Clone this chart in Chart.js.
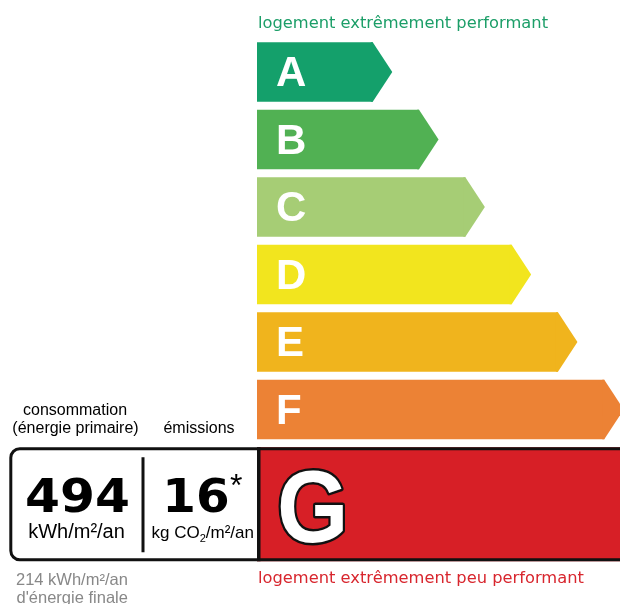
<!DOCTYPE html>
<html>
<head>
<meta charset="utf-8">
<script src="https://cdn.jsdelivr.net/npm/chart.js@4.4.1/dist/chart.umd.min.js"></script>
<style>
  html, body { margin: 0; padding: 0; background: #fff; }
  #wrap { width: 620px; height: 604px; position: relative; }
</style>
</head>
<body>
<div id="wrap"><canvas id="myChart"></canvas></div>
<script>
// energy classes and the (relative) length of each arrow
const classes = ['A', 'B', 'C', 'D', 'E', 'F'];
const barLengths = [2.5, 3.5, 4.5, 5.5, 6.5, 7.5];
const classColors = ['#14a06b', '#51b153', '#a6cd75', '#f2e51e', '#f0b41d', '#ec8235'];

// the rating of this home
const currentClass = 'G';
const primaryEnergy = 494;   // kWh/m²/an
const emissions = 16;        // kg CO2/m²/an
const finalEnergy = 214;     // kWh/m²/an

const topLabel = 'logement extrêmement performant';
const bottomLabel = 'logement extrêmement peu performant';

const tip = 19.5;

const dpePlugin = {
  id: 'dpe',
  afterDatasetsDraw(chart) {
    const ctx = chart.ctx;
    const meta = chart.getDatasetMeta(0);
    const x0 = chart.scales.x.getPixelForValue(0);

    // arrow tips + letters
    meta.data.forEach((bar, i) => {
      const h = bar.height;
      ctx.fillStyle = classColors[i];
      ctx.beginPath();
      ctx.moveTo(bar.x - 2, bar.y - h / 2);
      ctx.lineTo(bar.x, bar.y - h / 2);
      ctx.lineTo(bar.x + tip, bar.y);
      ctx.lineTo(bar.x, bar.y + h / 2);
      ctx.lineTo(bar.x - 2, bar.y + h / 2);
      ctx.closePath();
      ctx.fill();

      ctx.fillStyle = '#fff';
      ctx.font = 'bold 42px "Liberation Sans", Arial, sans-serif';
      ctx.textAlign = 'left';
      ctx.textBaseline = 'alphabetic';
      ctx.fillText(chart.data.labels[i], x0 + 19, bar.y + 14);
    });

    // the G box, right under F
    const last = meta.data[meta.data.length - 1];
    const pitch = meta.data[1].y - meta.data[0].y;
    const top = last.y + last.height / 2 + (pitch - last.height);
    const boxH = 114;

    ctx.save();
    ctx.fillStyle = '#d71f26';
    ctx.fillRect(x0, top, chart.width - x0 + 5, boxH);
    ctx.fillStyle = '#fff';
    ctx.fillRect(11, top + 2, x0 - 11, boxH - 4);
    ctx.fillStyle = '#111';
    ctx.fillRect(x0, top, 3.5, boxH);
    ctx.lineWidth = 3;
    ctx.strokeStyle = '#111';
    ctx.beginPath();
    ctx.roundRect(10.8, top + 1.5, 700, boxH - 3, 9);
    ctx.stroke();
    // divider
    ctx.fillRect(141.5, top + 10, 3, 95);

    // big G
    ctx.save();
    ctx.translate(x0 + 20, top + 94.5);
    ctx.scale(0.9, 1);
    ctx.font = 'bold 102px "Liberation Sans", Arial, sans-serif';
    ctx.lineJoin = 'round';
    ctx.lineWidth = 5;
    ctx.strokeStyle = '#111';
    ctx.strokeText(currentClass, 0, 0);
    ctx.fillStyle = '#fff';
    ctx.fillText(currentClass, 0, 0);
    ctx.restore();

    // values
    ctx.fillStyle = '#000';
    ctx.textAlign = 'center';
    ctx.font = 'bold 47px "DejaVu Sans", sans-serif';
    ctx.save();
    ctx.translate(77.5, top + 64.5);
    ctx.scale(1.07, 1);
    ctx.fillText(String(primaryEnergy), 0, 0);
    ctx.restore();
    ctx.save();
    ctx.translate(196, top + 64.5);
    ctx.scale(1.03, 1);
    ctx.fillText(String(emissions), 0, 0);
    ctx.restore();
    ctx.font = '32px "Liberation Sans", Arial, sans-serif';
    ctx.textAlign = 'left';
    ctx.fillText('*', 230, top + 49);

    ctx.font = '20px "Liberation Sans", Arial, sans-serif';
    ctx.textAlign = 'center';
    ctx.fillText('kWh/m²/an', 76.5, top + 91);

    ctx.font = '17px "Liberation Sans", Arial, sans-serif';
    ctx.textAlign = 'left';
    let tx = 151.5;
    ctx.fillText('kg CO', tx, top + 91);
    tx += ctx.measureText('kg CO').width;
    ctx.font = '11px "Liberation Sans", Arial, sans-serif';
    ctx.fillText('2', tx, top + 95);
    tx += ctx.measureText('2').width;
    ctx.font = '17px "Liberation Sans", Arial, sans-serif';
    ctx.fillText('/m²/an', tx, top + 91);

    // headers above the box
    ctx.font = '16px "Liberation Sans", Arial, sans-serif';
    ctx.textAlign = 'center';
    ctx.fillText('consommation', 75, top - 32);
    ctx.fillText('(énergie primaire)', 75.5, top - 14);
    ctx.fillText('émissions', 199, top - 14);

    // final energy under the box
    ctx.fillStyle = '#888';
    ctx.textAlign = 'left';
    ctx.font = '16.5px "Liberation Sans", Arial, sans-serif';
    ctx.fillText(finalEnergy + ' kWh/m²/an', 16, top + 138);
    ctx.fillText("d'énergie finale", 16.5, top + 155.5);

    // side captions
    ctx.font = '16.3px "DejaVu Sans", Verdana, sans-serif';
    ctx.fillStyle = '#1c9e68';
    ctx.fillText(topLabel, x0 + 1, 27.5);
    ctx.fillStyle = '#d8262e';
    ctx.fillText(bottomLabel, x0 + 1, top + 135.5);
    ctx.restore();
  }
};

const ctx = document.getElementById('myChart');

new Chart(ctx, {
  type: 'bar',
  data: {
    labels: classes,
    datasets: [{
      data: barLengths,
      backgroundColor: classColors,
      borderWidth: 0,
      barPercentage: 59.5 / 67.5,
      categoryPercentage: 1
    }]
  },
  options: {
    indexAxis: 'y',
    responsive: true,
    maintainAspectRatio: false,
    animation: false,
    layout: {
      padding: { left: 257, right: 0, top: 38.25, bottom: 160.75 }
    },
    scales: {
      x: { display: false, min: 0, max: 7.84 },
      y: { display: false }
    },
    plugins: {
      legend: { display: false },
      tooltip: { enabled: false }
    }
  },
  plugins: [dpePlugin]
});
</script>
</body>
</html>
